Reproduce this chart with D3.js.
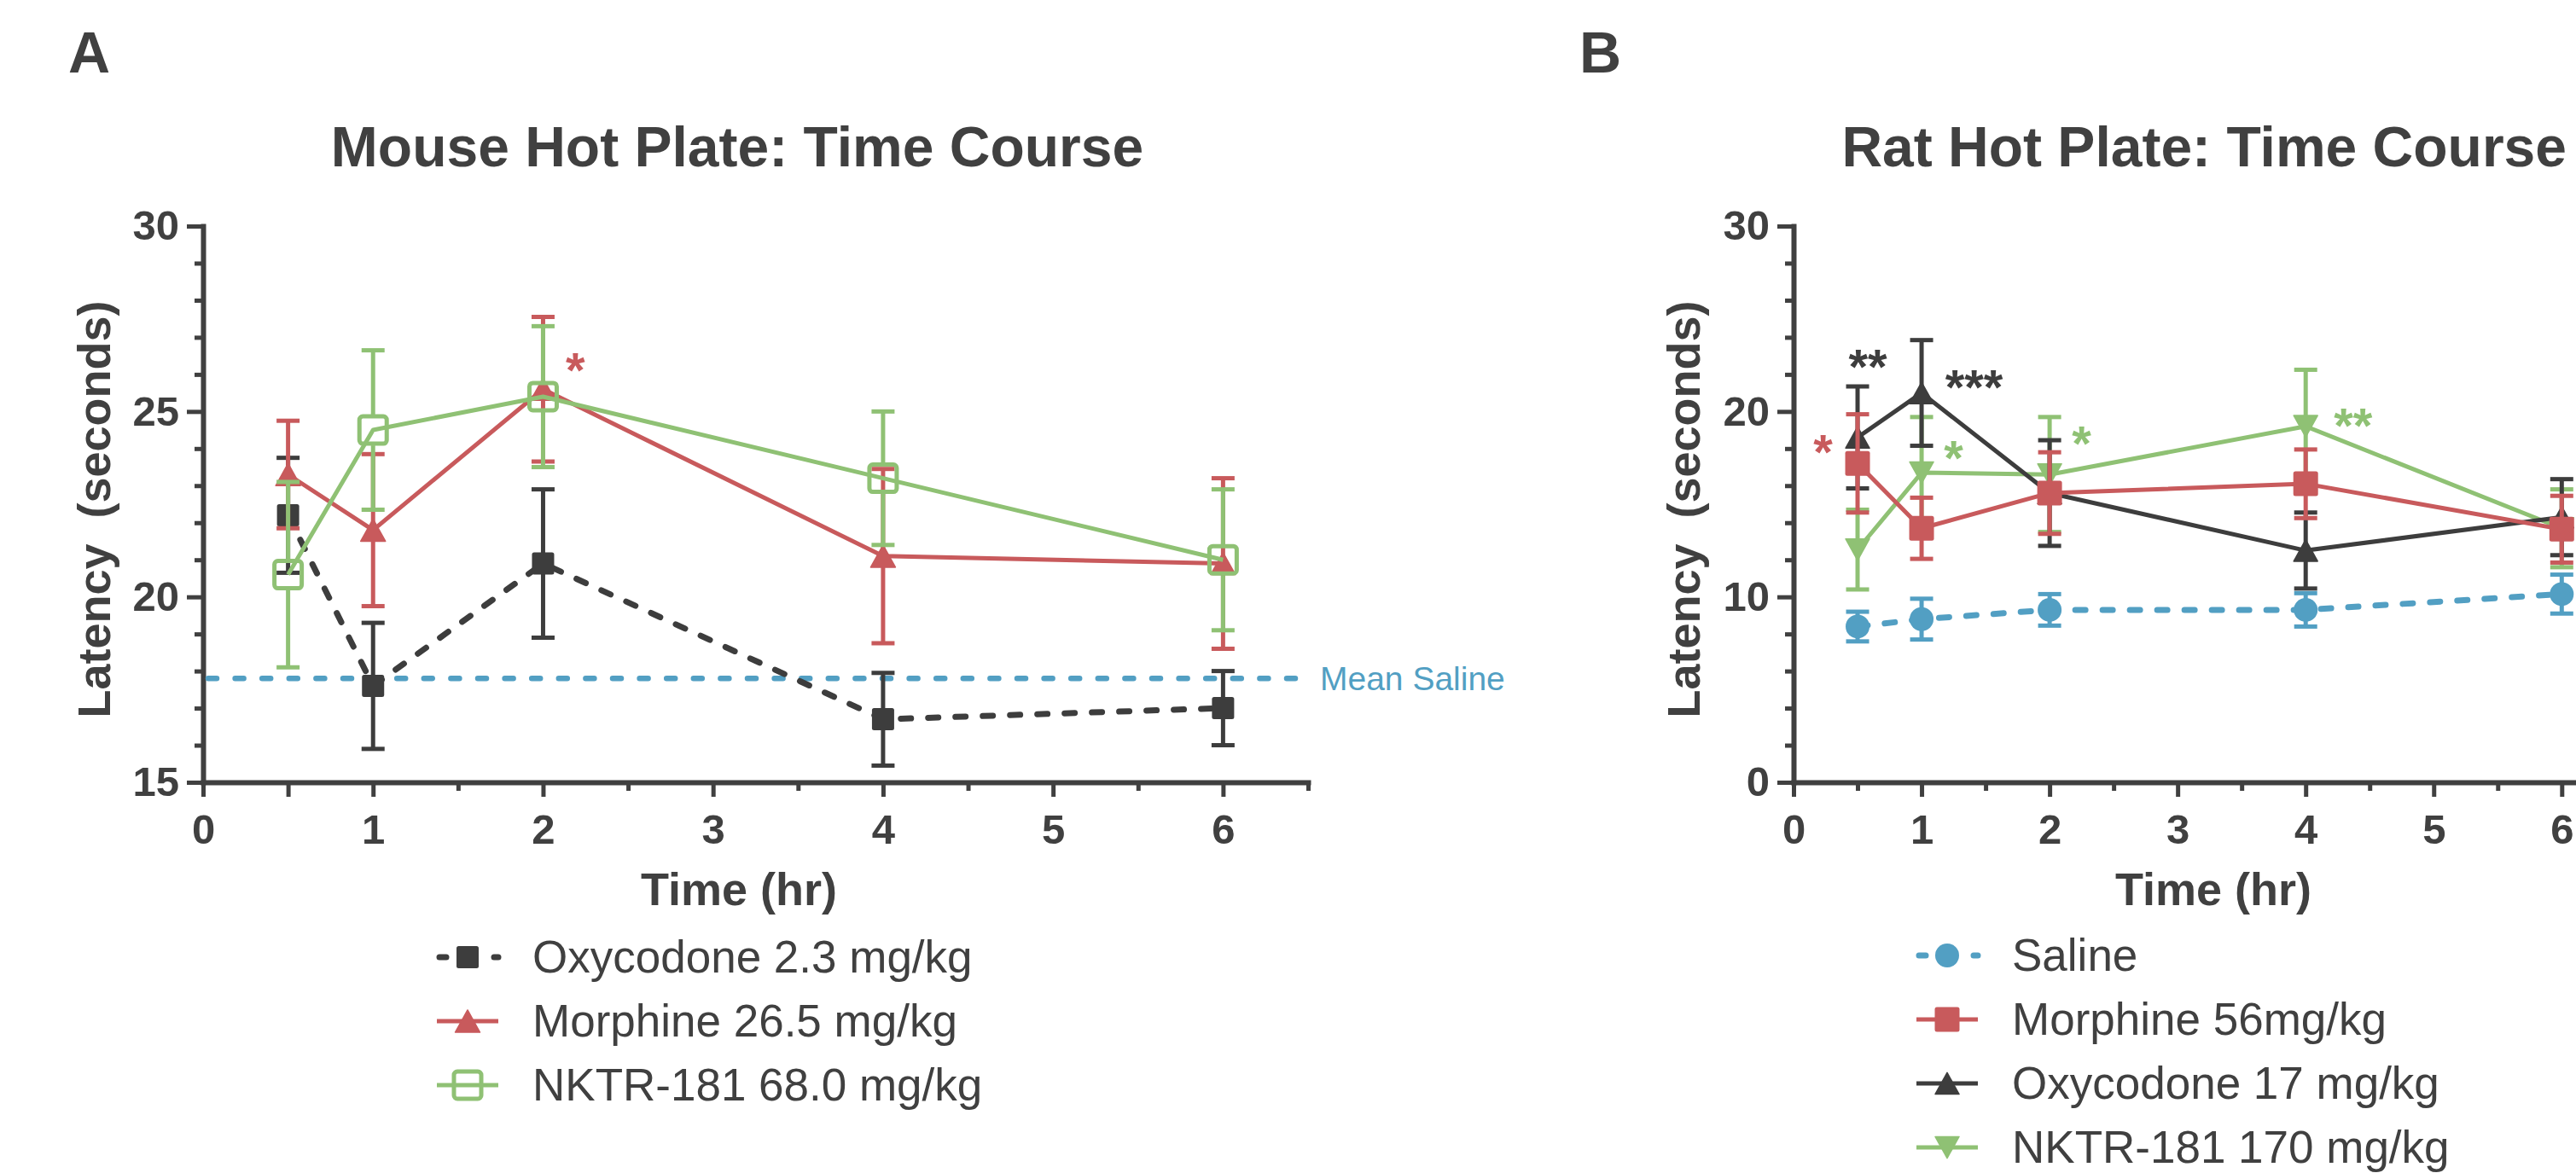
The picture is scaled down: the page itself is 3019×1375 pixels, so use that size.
<!DOCTYPE html>
<html>
<head>
<meta charset="utf-8">
<script src="https://cdn.jsdelivr.net/npm/d3@7"></script>
<style>
  body { margin: 0; background: #fff; }
  text { font-family: "Liberation Sans", Arial, sans-serif; }
</style>
</head>
<body>
<div id="chart"></div>
<script>
const hours = [0.5, 1, 2, 4, 6];

// A: mouse hot plate
const oxyA = [22.2, 17.6, 20.9, 16.7, 17.0];
const oxyAErr = [1.55, 1.7, 2.0, 1.25, 1.0];
const morA = [23.3, 21.8, 25.6, 21.1, 20.9];
const morAErr = [1.45, 2.05, 1.95, 2.35, 2.3];
const nktA = [20.6, 24.5, 25.4, 23.2, 21.0];
const nktAErr = [2.5, 2.15, 1.9, 1.8, 1.9];
const salineMeanA = 17.8;
const legendA = ['Oxycodone 2.3 mg/kg', 'Morphine 26.5 mg/kg', 'NKTR-181 68.0 mg/kg'];
const starsA = [{x: 2.19, y: 26.4, t: '*', s: 'mor'}];

// B: rat hot plate
const salB = [8.4, 8.8, 9.3, 9.3, 10.15];
const salBErr = [0.8, 1.1, 0.85, 0.9, 1.05];
const morB = [17.2, 13.7, 15.6, 16.1, 13.65];
const morBErr = [2.65, 1.65, 2.2, 1.85, 1.8];
const oxyB = [18.6, 21.0, 15.6, 12.5, 14.3];
const oxyBErr = [2.75, 2.85, 2.85, 2.05, 2.05];
const nktB = [12.55, 16.7, 16.6, 19.2, 13.7];
const nktBErr = [2.15, 3.0, 3.1, 3.05, 2.1];
const legendB = ['Saline', 'Morphine 56mg/kg', 'Oxycodone 17 mg/kg', 'NKTR-181 170 mg/kg'];
const starsB = [
    {x: 0.23, y: 18.4, t: '*', s: 'mor'},
    {x: 0.58, y: 23.0, t: '**', s: 'oxy'},
    {x: 1.41, y: 21.9, t: '***', s: 'oxy'},
    {x: 1.25, y: 18.1, t: '*', s: 'nkt'},
    {x: 2.25, y: 18.85, t: '*', s: 'nkt'},
    {x: 4.37, y: 19.85, t: '**', s: 'nkt'}
];

const xTicks = [0, 1, 2, 3, 4, 5, 6];
const xMinor = [0.5, 1.5, 2.5, 3.5, 4.5, 5.5, 6.5];

const ink = '#404040';
const colors = {oxy: '#3d3d3d', mor: '#c85a5c', nkt: '#8fc174', sal: '#529fc3'};

const W = 3019, H = 1375;
const svg = d3.select('#chart').append('svg')
    .attr('width', W).attr('height', H)
    .style('background', '#fff');

function marker(g, shape, cx, cy, color, size) {
    const s = size;
    if (shape === 'square') {
        g.append('rect').attr('x', cx - s / 2).attr('y', cy - s / 2)
            .attr('width', s).attr('height', s).attr('rx', 2.5).attr('fill', color);
    } else if (shape === 'openSquare') {
        g.append('rect').attr('x', cx - s / 2).attr('y', cy - s / 2)
            .attr('width', s).attr('height', s).attr('rx', 4)
            .attr('fill', 'none').attr('stroke', color).attr('stroke-width', 5);
    } else if (shape === 'circle') {
        g.append('circle').attr('cx', cx).attr('cy', cy).attr('r', s / 2).attr('fill', color);
    } else {
        const h = s * 0.9, dir = shape === 'triUp' ? 1 : -1;
        g.append('path')
            .attr('d', `M${cx},${cy - dir * h / 2}L${cx + s / 2},${cy + dir * h / 2}L${cx - s / 2},${cy + dir * h / 2}Z`)
            .attr('fill', color).attr('stroke', color).attr('stroke-width', 1.5).attr('stroke-linejoin', 'round');
    }
}

function drawSeries(g, x, y, vals, errs, opt) {
    const color = colors[opt.key];
    const gap = opt.shape === 'openSquare' ? opt.size / 2 + 2 : 0;
    // error bars
    vals.forEach((v, i) => {
        const cx = x(hours[i]);
        const cy = y(v);
        const top = y(v + errs[i]), bot = y(v - errs[i]);
        g.append('line').attr('x1', cx).attr('x2', cx).attr('y1', top).attr('y2', cy - gap)
            .attr('stroke', color).attr('stroke-width', 5);
        g.append('line').attr('x1', cx).attr('x2', cx).attr('y1', cy + gap).attr('y2', bot)
            .attr('stroke', color).attr('stroke-width', 5);
        [top, bot].forEach(yy => {
            g.append('line').attr('x1', cx - 13.5).attr('x2', cx + 13.5).attr('y1', yy).attr('y2', yy)
                .attr('stroke', color).attr('stroke-width', 5);
        });
    });
    const line = d3.line().x((d, i) => x(hours[i])).y(d => y(d));
    g.append('path').datum(vals)
        .attr('fill', 'none').attr('stroke', color)
        .attr('stroke-width', opt.dashed ? 7 : 5)
        .attr('stroke-linejoin', 'round')
        .attr('stroke-linecap', opt.dashed ? 'round' : 'butt')
        .attr('stroke-dasharray', opt.dashed ? '12,20' : null)
        .attr('d', line);
    vals.forEach((v, i) => marker(g, opt.shape, x(hours[i]), y(v), color, opt.size));
}

function axes(x, y, yMajor, yMinor, longHalf) {
    const gx = svg.append('g').attr('transform', `translate(0,${y.range()[0]})`)
        .call(d3.axisBottom(x).tickValues(longHalf ? [0, 0.5].concat(xTicks.slice(1)) : xTicks)
            .tickFormat(d => d === 0.5 ? '' : d).tickSize(17).tickSizeOuter(0).tickPadding(20));
    svg.append('g').attr('transform', `translate(0,${y.range()[0]})`)
        .call(d3.axisBottom(x).tickValues(xMinor.filter(d => !(longHalf && d === 0.5)))
            .tickFormat('').tickSize(10).tickSizeOuter(0))
        .call(g => g.select('.domain').remove());
    const gy = svg.append('g').attr('transform', `translate(${x.range()[0]},0)`)
        .call(d3.axisLeft(y).tickValues(yMajor).tickSize(19).tickSizeOuter(0).tickPadding(9));
    svg.append('g').attr('transform', `translate(${x.range()[0]},0)`)
        .call(d3.axisLeft(y).tickValues(yMinor).tickFormat('').tickSize(10).tickSizeOuter(0))
        .call(g => g.select('.domain').remove());
    svg.selectAll('.tick line').attr('stroke', ink).attr('stroke-width', 5);
    svg.selectAll('.domain').attr('stroke', ink).attr('stroke-width', 6).attr('stroke-linecap', 'square');
    [gx, gy].forEach(g => g.selectAll('text')
        .attr('fill', ink).style('font-size', '49px').style('font-weight', 'bold')
        .style('font-family', '"Liberation Sans", Arial, sans-serif'));
}

function texts(titleX, anchor, title, label, xTitleX, yLabelX, letterX) {
    svg.append('text').attr('x', letterX).attr('y', 85).text(label)
        .attr('fill', ink).style('font-size', '68px').style('font-weight', 'bold');
    svg.append('text').attr('x', titleX).attr('y', 195).attr('text-anchor', anchor).text(title)
        .attr('fill', ink).style('font-size', '66px').style('font-weight', 'bold');
    svg.append('text').attr('x', xTitleX).attr('y', 1061).attr('text-anchor', 'middle').text('Time (hr)')
        .attr('fill', ink).style('font-size', '54px').style('font-weight', 'bold');
    svg.append('text').attr('transform', `translate(${yLabelX},597) rotate(-90)`)
        .attr('text-anchor', 'middle').text('Latency  (seconds)')
        .style('white-space', 'pre')
        .attr('fill', ink).style('font-size', '54px').style('font-weight', 'bold');
}

function legend(items, x0, y0, entries) {
    items.forEach((o, i) => {
        const yy = y0 + i * 75;
        const g = svg.append('g');
        g.append('line').attr('x1', x0).attr('x2', x0 + 72).attr('y1', yy).attr('y2', yy)
            .attr('stroke', colors[o.key]).attr('stroke-width', o.dashed ? 7 : 5)
            .attr('stroke-linecap', o.dashed ? 'round' : 'butt')
            .attr('stroke-dasharray', o.dashed ? '8,24' : null)
            .attr('stroke-dashoffset', o.dashed ? -3 : 0);
        marker(g, o.shape, x0 + 36, yy, colors[o.key], o.size);
        svg.append('text').attr('x', x0 + 112).attr('y', yy + 18).text(entries[i])
            .attr('fill', ink).style('font-size', '53px');
    });
}

function stars(x, y, list) {
    list.forEach(s => {
        svg.append('text').attr('x', x(s.x)).attr('y', y(s.y) + 33)
            .attr('text-anchor', 'middle').text(s.t)
            .attr('fill', colors[s.s]).style('font-size', '58px').style('font-weight', 'bold');
    });
}

// ---------- panel A
const xA = d3.scaleLinear().domain([0, 6.5]).range([238, 1533]);
const yA = d3.scaleLinear().domain([15, 30]).range([917, 265]);
axes(xA, yA, [15, 20, 25, 30], d3.range(16, 30).filter(d => d % 5), true);
texts(864, 'middle', 'Mouse Hot Plate: Time Course', 'A', 866, 129, 80);

const gA = svg.append('g');
gA.append('line')
    .attr('x1', xA(0) + 6).attr('x2', xA(6.47))
    .attr('y1', yA(salineMeanA)).attr('y2', yA(salineMeanA))
    .attr('stroke', colors.sal).attr('stroke-width', 6.5)
    .attr('stroke-linecap', 'round').attr('stroke-dasharray', '10,21.6');
gA.append('text').attr('x', xA(6.5) + 14).attr('y', yA(salineMeanA) + 14)
    .text('Mean Saline').attr('fill', colors.sal).style('font-size', '39px');

const seriesA = [
    {key: 'oxy', shape: 'square', size: 26, dashed: true, vals: oxyA, errs: oxyAErr},
    {key: 'mor', shape: 'triUp', size: 29, vals: morA, errs: morAErr},
    {key: 'nkt', shape: 'openSquare', size: 32, vals: nktA, errs: nktAErr}
];
seriesA.forEach(s => drawSeries(gA, xA, yA, s.vals, s.errs, s));
stars(xA, yA, starsA);
legend(seriesA, 512, 1122, legendA);

// ---------- panel B
const xB = d3.scaleLinear().domain([0, 6.5]).range([2102, 2102 + 6.5 * 150.05]);
const yB = d3.scaleLinear().domain([0, 30]).range([917, 265]);
axes(xB, yB, [0, 10, 20, 30], d3.range(2, 30, 2).filter(d => d % 10), false);
texts(3008, 'end', 'Rat Hot Plate: Time Course', 'B', 2594, 1992, 1851);

const gB = svg.append('g');
const seriesB = [
    {key: 'sal', shape: 'circle', size: 28, dashed: true, vals: salB, errs: salBErr},
    {key: 'mor', shape: 'square', size: 29, vals: morB, errs: morBErr},
    {key: 'oxy', shape: 'triUp', size: 28, vals: oxyB, errs: oxyBErr},
    {key: 'nkt', shape: 'triDown', size: 28, vals: nktB, errs: nktBErr}
];
// drawn back to front: NKTR, oxycodone, morphine, saline
[3, 2, 1, 0].forEach(i => drawSeries(gB, xB, yB, seriesB[i].vals, seriesB[i].errs, seriesB[i]));
stars(xB, yB, starsB);
legend(seriesB, 2246, 1120, legendB);
</script>
</body>
</html>
